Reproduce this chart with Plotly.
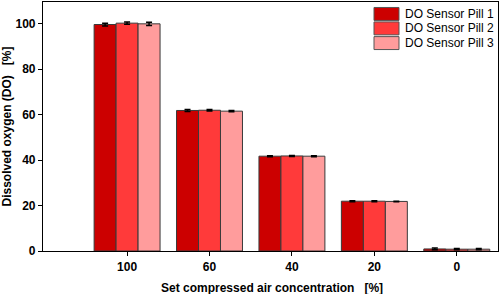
import plotly.graph_objects as go

categories = ["100", "60", "40", "20", "0"]
series_names = ["DO Sensor Pill 1", "DO Sensor Pill 2", "DO Sensor Pill 3"]
pill1 = [99.6, 61.8, 41.7, 21.9, 0.9]
pill2 = [100.2, 61.9, 41.8, 21.9, 0.8]
pill3 = [99.9, 61.5, 41.7, 21.8, 0.8]
err1 = [0.6, 0.4, 0.2, 0.2, 0.4]
err2 = [0.5, 0.3, 0.2, 0.2, 0.3]
err3 = [0.7, 0.3, 0.2, 0.1, 0.3]
colors = ["#CC0000", "#FF3A3A", "#FF9C9C"]
x_title = "Set compressed air concentration   [%]"
y_title = "Dissolved oxygen (DO)   [%]"

FONT = "Liberation Sans, Arial, sans-serif"

fig = go.Figure()
for name, vals, errs, col in zip(series_names, [pill1, pill2, pill3], [err1, err2, err3], colors):
    fig.add_trace(go.Bar(
        x=categories, y=vals, name=name, showlegend=False,
        marker=dict(color=col, line=dict(color="#3a3a3a", width=1)),
        error_y=dict(type="data", array=errs, color="black", thickness=1.5, width=3),
    ))

# manual legend (plot-area paper coordinates)
leg_x0, leg_x1, leg_tx = 0.7275, 0.7824, 0.791
leg_rows = [0.952, 0.894, 0.835]
leg_h = 0.026
for name, col, yc in zip(series_names, colors, leg_rows):
    fig.add_shape(type="rect", xref="paper", yref="paper",
                  x0=leg_x0, x1=leg_x1, y0=yc - leg_h, y1=yc + leg_h,
                  fillcolor=col, line=dict(color="#555555", width=1))
    fig.add_annotation(xref="paper", yref="paper", x=leg_tx, y=yc,
                       text=name, showarrow=False, xanchor="left", yanchor="middle",
                       font=dict(size=12, family=FONT, color="black"))

# x-axis title
fig.add_annotation(xref="paper", yref="paper", x=0.503, y=-0.149,
                   text="<b>" + x_title + "</b>", showarrow=False,
                   xanchor="center", yanchor="middle",
                   font=dict(size=12, family=FONT, color="black"))

fig.update_layout(
    width=500, height=294,
    margin=dict(l=43, r=2, t=2, b=43, autoexpand=False),
    paper_bgcolor="white", plot_bgcolor="white",
    barmode="group", bargap=0.2, bargroupgap=0,
    font=dict(family=FONT, color="black", size=12),
    showlegend=False,
    xaxis=dict(
        type="category", range=[-1.02, 4.5],
        showline=True, linecolor="black", linewidth=1.2, mirror=True,
        ticks="outside", ticklen=4, tickcolor="black", tickwidth=1.2,
        showgrid=False, automargin=False,
        tickfont=dict(size=12, family=FONT, weight="bold"),
    ),
    yaxis=dict(
        range=[0, 109.5], dtick=20,
        showline=True, linecolor="black", linewidth=1.2, mirror=True,
        ticks="outside", ticklen=4, tickcolor="black", tickwidth=1.2,
        showgrid=False, zeroline=False, automargin=False,
        tickfont=dict(size=12, family=FONT, weight="bold"),
        title=dict(text="<b>" + y_title + "</b>", font=dict(size=12), standoff=6),
    ),
)

fig.write_html("out.html")
